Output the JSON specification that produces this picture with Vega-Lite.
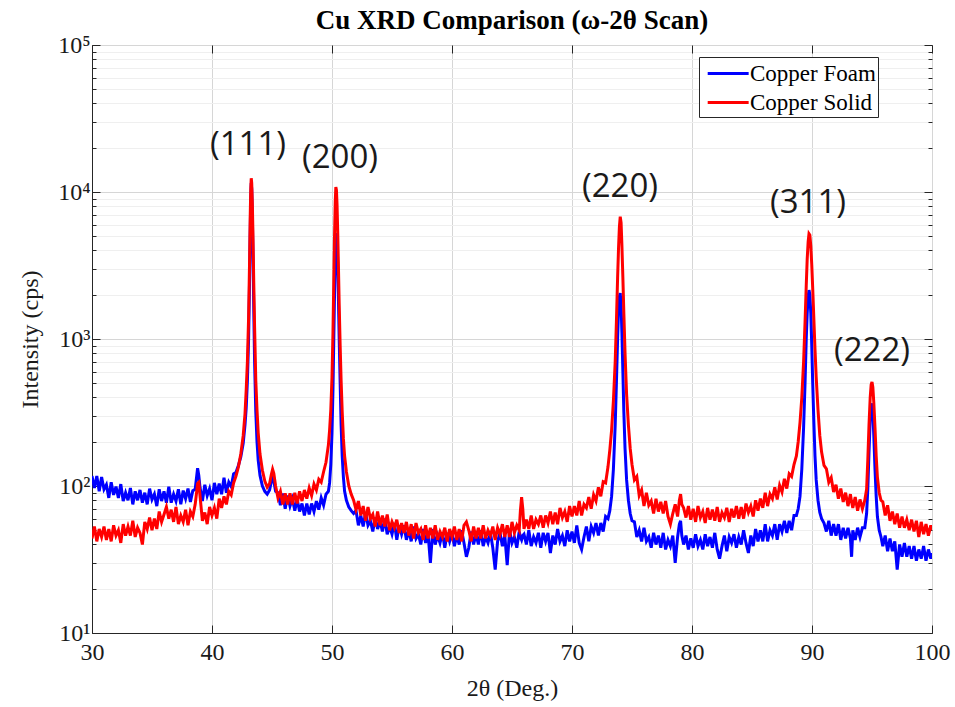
{
"$schema":"https://vega.github.io/schema/vega-lite/v6.json",
"width":840,"height":588,
"autosize":{"type":"none"},
"padding":{"left":92,"top":45,"right":23,"bottom":74},
"background":"white",
"title":{"text":"Cu XRD Comparison (ω-2θ Scan)","font":"Liberation Serif","fontSize":27,"fontWeight":"bold","color":"black","anchor":"middle","baseline":"alphabetic","offset":-23},
"config":{
 "view":{"stroke":"#262626","strokeWidth":1},
 "axis":{"domainColor":"#262626","tickColor":"#262626","labelColor":"#1a1a1a","titleColor":"#1a1a1a","labelFont":"Liberation Serif","titleFont":"Liberation Serif","labelFontSize":24,"titleFontSize":24,"titleFontWeight":"normal","labelOverlap":false,"labelBound":false,"labelFlush":false},
 "legend":{"orient":"none","legendX":607,"legendY":12,"strokeColor":"#262626","fillColor":"white","padding":2,"symbolType":"M-0.6,0L2.55,0","symbolSize":676,"symbolStrokeWidth":3,"labelFont":"Liberation Serif","labelFontSize":23,"labelOffset":20,"labelColor":"black","rowPadding":2}
},
"datasets":{
"xrd":[
{"x":30.0,"f":117,"s":44},{"x":30.2,"f":97,"s":53},{"x":30.4,"f":117,"s":42},{"x":30.6,"f":92,"s":51},{"x":30.8,"f":115,"s":45},
{"x":31.0,"f":95,"s":53},{"x":31.2,"f":102,"s":43},{"x":31.4,"f":83,"s":51},{"x":31.6,"f":106,"s":42},{"x":31.8,"f":87,"s":54},
{"x":32.0,"f":99,"s":46},{"x":32.2,"f":83,"s":50},{"x":32.4,"f":103,"s":41},{"x":32.6,"f":79,"s":55},{"x":32.8,"f":90,"s":46},
{"x":33.0,"f":80,"s":53},{"x":33.2,"f":97,"s":46},{"x":33.4,"f":75,"s":58},{"x":33.6,"f":92,"s":45},{"x":33.8,"f":80,"s":52},
{"x":34.0,"f":94,"s":48},{"x":34.2,"f":77,"s":40},{"x":34.4,"f":90,"s":57},{"x":34.6,"f":75,"s":51},{"x":34.8,"f":96,"s":61},
{"x":35.0,"f":81,"s":50},{"x":35.2,"f":88,"s":60},{"x":35.4,"f":73,"s":51},{"x":35.6,"f":95,"s":67},{"x":35.8,"f":79,"s":57},
{"x":36.0,"f":92,"s":64},{"x":36.2,"f":77,"s":72},{"x":36.4,"f":99,"s":60},{"x":36.6,"f":77,"s":69},{"x":36.8,"f":88,"s":57},
{"x":37.0,"f":79,"s":72},{"x":37.2,"f":95,"s":55},{"x":37.4,"f":75,"s":63},{"x":37.6,"f":93,"s":57},{"x":37.8,"f":82,"s":69},
{"x":38.0,"f":96,"s":54},{"x":38.2,"f":78,"s":67},{"x":38.4,"f":93,"s":62},{"x":38.6,"f":95,"s":75},{"x":38.7,"f":112,"s":88},
{"x":38.8,"f":132,"s":104},{"x":38.9,"f":118,"s":106},{"x":39.0,"f":98,"s":86},{"x":39.2,"f":79,"s":58},{"x":39.4,"f":102,"s":66},
{"x":39.6,"f":86,"s":55},{"x":39.8,"f":96,"s":72},{"x":40.0,"f":80,"s":63},{"x":40.2,"f":105,"s":71},{"x":40.4,"f":88,"s":60},
{"x":40.6,"f":104,"s":82},{"x":40.8,"f":88,"s":71},{"x":41.0,"f":114,"s":85},{"x":41.2,"f":90,"s":75},{"x":41.4,"f":106,"s":92},
{"x":41.6,"f":99,"s":87},{"x":41.8,"f":121,"s":105},{"x":42.0,"f":124,"s":117},{"x":42.2,"f":138,"s":135},{"x":42.4,"f":158,"s":165},
{"x":42.6,"f":195,"s":220},{"x":42.75,"f":260,"s":310},{"x":42.85,"f":340,"s":450},{"x":42.95,"f":520,"s":700},{"x":43.05,"f":1000,"s":1400},
{"x":43.12,"f":2200,"s":3000},{"x":43.18,"f":5000,"s":6500},{"x":43.23,"f":9000,"s":10500},{"x":43.27,"f":11500,"s":12400},{"x":43.31,"f":10500,"s":11500},
{"x":43.36,"f":7000,"s":8500},{"x":43.42,"f":3500,"s":4800},{"x":43.48,"f":1600,"s":2400},{"x":43.55,"f":700,"s":1200},{"x":43.65,"f":320,"s":520},
{"x":43.75,"f":200,"s":330},{"x":43.85,"f":150,"s":230},{"x":44.0,"f":118,"s":165},{"x":44.2,"f":100,"s":128},{"x":44.4,"f":92,"s":108},
{"x":44.6,"f":88,"s":98},{"x":44.8,"f":94,"s":104},{"x":44.95,"f":108,"s":120},{"x":45.05,"f":115,"s":130},{"x":45.15,"f":108,"s":122},
{"x":45.3,"f":92,"s":100},{"x":45.5,"f":90,"s":83},{"x":45.7,"f":74,"s":92},{"x":45.9,"f":89,"s":75},{"x":46.1,"f":70,"s":89},
{"x":46.3,"f":86,"s":75},{"x":46.5,"f":73,"s":89},{"x":46.7,"f":82,"s":75},{"x":46.9,"f":68,"s":90},{"x":47.1,"f":81,"s":76},
{"x":47.3,"f":67,"s":92},{"x":47.5,"f":76,"s":79},{"x":47.7,"f":63,"s":94},{"x":47.9,"f":76,"s":82},{"x":48.1,"f":64,"s":97},
{"x":48.3,"f":76,"s":86},{"x":48.5,"f":67,"s":103},{"x":48.7,"f":79,"s":94},{"x":48.9,"f":69,"s":111},{"x":49.1,"f":83,"s":106},
{"x":49.3,"f":74,"s":125},{"x":49.5,"f":88,"s":145},{"x":49.7,"f":92,"s":190},{"x":49.8,"f":105,"s":240},{"x":49.9,"f":140,"s":330},
{"x":50.0,"f":230,"s":550},{"x":50.08,"f":450,"s":1100},{"x":50.15,"f":1000,"s":2500},{"x":50.21,"f":2000,"s":5000},{"x":50.27,"f":3500,"s":8500},
{"x":50.32,"f":4800,"s":10800},{"x":50.37,"f":5250,"s":10300},{"x":50.42,"f":4700,"s":8200},{"x":50.48,"f":3200,"s":5200},{"x":50.54,"f":1800,"s":3000},
{"x":50.6,"f":1000,"s":1700},{"x":50.68,"f":500,"s":900},{"x":50.76,"f":260,"s":520},{"x":50.85,"f":160,"s":320},{"x":50.95,"f":115,"s":210},
{"x":51.05,"f":92,"s":160},{"x":51.2,"f":80,"s":125},{"x":51.4,"f":72,"s":100},{"x":51.6,"f":68,"s":88},{"x":51.8,"f":65,"s":80},
{"x":52.0,"f":68,"s":69},{"x":52.2,"f":54,"s":79},{"x":52.4,"f":63,"s":63},{"x":52.6,"f":53,"s":73},{"x":52.8,"f":66,"s":58},
{"x":53.0,"f":54,"s":72},{"x":53.2,"f":58,"s":60},{"x":53.4,"f":49,"s":64},{"x":53.6,"f":61,"s":53},{"x":53.8,"f":51,"s":67},
{"x":54.0,"f":58,"s":54},{"x":54.2,"f":49,"s":63},{"x":54.4,"f":60,"s":53},{"x":54.6,"f":47,"s":64},{"x":54.8,"f":53,"s":50},
{"x":55.0,"f":47,"s":57},{"x":55.2,"f":56,"s":52},{"x":55.4,"f":43,"s":59},{"x":55.6,"f":54,"s":48},{"x":55.8,"f":47,"s":56},
{"x":56.0,"f":54,"s":48},{"x":56.2,"f":43,"s":57},{"x":56.4,"f":50,"s":46},{"x":56.6,"f":42,"s":55},{"x":56.8,"f":53,"s":44},
{"x":57.0,"f":44,"s":56},{"x":57.2,"f":47,"s":48},{"x":57.4,"f":40,"s":51},{"x":57.6,"f":51,"s":43},{"x":57.8,"f":41,"s":54},
{"x":58.0,"f":48,"s":44},{"x":58.2,"f":30,"s":52},{"x":58.4,"f":51,"s":44},{"x":58.6,"f":40,"s":54},{"x":58.8,"f":46,"s":43},
{"x":59.0,"f":41,"s":49},{"x":59.2,"f":48,"s":45},{"x":59.4,"f":38,"s":52},{"x":59.6,"f":48,"s":42},{"x":59.8,"f":42,"s":51},
{"x":60.0,"f":48,"s":45},{"x":60.2,"f":39,"s":53},{"x":60.4,"f":46,"s":43},{"x":60.6,"f":40,"s":51},{"x":60.8,"f":50,"s":42},
{"x":61.0,"f":41,"s":54},{"x":61.2,"f":33,"s":57},{"x":61.4,"f":38,"s":50},{"x":61.6,"f":49,"s":42},{"x":61.8,"f":40,"s":53},
{"x":62.0,"f":47,"s":44},{"x":62.2,"f":40,"s":52},{"x":62.4,"f":50,"s":44},{"x":62.6,"f":39,"s":54},{"x":62.8,"f":45,"s":44},
{"x":63.0,"f":41,"s":50},{"x":63.2,"f":48,"s":46},{"x":63.4,"f":38,"s":53},{"x":63.6,"f":27,"s":43},{"x":63.8,"f":42,"s":52},
{"x":64.0,"f":48,"s":47},{"x":64.2,"f":39,"s":55},{"x":64.4,"f":46,"s":45},{"x":64.6,"f":29,"s":54},{"x":64.8,"f":50,"s":45},
{"x":65.0,"f":41,"s":57},{"x":65.2,"f":45,"s":48},{"x":65.4,"f":38,"s":54},{"x":65.6,"f":49,"s":50},{"x":65.7,"f":45,"s":68},
{"x":65.8,"f":43,"s":84},{"x":65.9,"f":46,"s":70},{"x":66.0,"f":47,"s":51},{"x":66.2,"f":40,"s":59},{"x":66.4,"f":50,"s":51},
{"x":66.6,"f":39,"s":63},{"x":66.8,"f":45,"s":51},{"x":67.0,"f":41,"s":59},{"x":67.2,"f":48,"s":55},{"x":67.4,"f":38,"s":63},
{"x":67.6,"f":48,"s":52},{"x":67.8,"f":42,"s":63},{"x":68.0,"f":48,"s":56},{"x":68.2,"f":35,"s":67},{"x":68.4,"f":46,"s":55},
{"x":68.6,"f":40,"s":66},{"x":68.8,"f":51,"s":55},{"x":69.0,"f":42,"s":71},{"x":69.2,"f":46,"s":61},{"x":69.4,"f":39,"s":67},
{"x":69.6,"f":50,"s":57},{"x":69.8,"f":42,"s":73},{"x":70.0,"f":49,"s":62},{"x":70.2,"f":41,"s":73},{"x":70.4,"f":54,"s":63},
{"x":70.6,"f":41,"s":79},{"x":70.8,"f":37,"s":63},{"x":71.0,"f":45,"s":75},{"x":71.2,"f":53,"s":71},{"x":71.4,"f":42,"s":84},
{"x":71.6,"f":53,"s":70},{"x":71.8,"f":48,"s":87},{"x":72.0,"f":56,"s":79},{"x":72.2,"f":46,"s":98},{"x":72.4,"f":56,"s":85},
{"x":72.6,"f":49,"s":107},{"x":72.8,"f":62,"s":105},{"x":73.0,"f":60,"s":135},{"x":73.15,"f":68,"s":175},{"x":73.3,"f":85,"s":240},
{"x":73.45,"f":130,"s":380},{"x":73.6,"f":260,"s":700},{"x":73.7,"f":500,"s":1300},{"x":73.8,"f":1000,"s":2600},{"x":73.88,"f":1600,"s":4200},
{"x":73.95,"f":1950,"s":5800},{"x":74.02,"f":2050,"s":6800},{"x":74.09,"f":1700,"s":6200},{"x":74.16,"f":1100,"s":4300},{"x":74.24,"f":600,"s":2600},
{"x":74.32,"f":320,"s":1500},{"x":74.42,"f":180,"s":800},{"x":74.55,"f":110,"s":420},{"x":74.7,"f":80,"s":260},{"x":74.85,"f":65,"s":180},
{"x":75.0,"f":58,"s":140},{"x":75.2,"f":57,"s":110},{"x":75.4,"f":45,"s":116},{"x":75.6,"f":50,"s":86},{"x":75.8,"f":42,"s":94},
{"x":76.0,"f":52,"s":73},{"x":76.2,"f":42,"s":90},{"x":76.4,"f":45,"s":74},{"x":76.6,"f":38,"s":79},{"x":76.8,"f":48,"s":65},
{"x":77.0,"f":40,"s":82},{"x":77.2,"f":46,"s":67},{"x":77.4,"f":38,"s":78},{"x":77.6,"f":48,"s":65},{"x":77.8,"f":37,"s":79},
{"x":78.0,"f":43,"s":62},{"x":78.2,"f":39,"s":55},{"x":78.4,"f":46,"s":65},{"x":78.6,"f":30,"s":75},{"x":78.8,"f":45,"s":62},
{"x":78.95,"f":55,"s":80},{"x":79.05,"f":58,"s":88},{"x":79.15,"f":46,"s":75},{"x":79.3,"f":40,"s":71},{"x":79.5,"f":46,"s":61},
{"x":79.7,"f":37,"s":73},{"x":79.9,"f":44,"s":59},{"x":80.1,"f":38,"s":70},{"x":80.3,"f":47,"s":57},{"x":80.5,"f":39,"s":73},
{"x":80.7,"f":43,"s":61},{"x":80.9,"f":37,"s":67},{"x":81.1,"f":47,"s":56},{"x":81.3,"f":39,"s":71},{"x":81.5,"f":45,"s":59},
{"x":81.7,"f":38,"s":69},{"x":81.9,"f":48,"s":58},{"x":82.1,"f":37,"s":72},{"x":82.3,"f":32,"s":57},{"x":82.5,"f":39,"s":66},
{"x":82.7,"f":46,"s":61},{"x":82.9,"f":36,"s":71},{"x":83.1,"f":45,"s":57},{"x":83.3,"f":41,"s":70},{"x":83.5,"f":47,"s":61},
{"x":83.7,"f":38,"s":73},{"x":83.9,"f":45,"s":60},{"x":84.1,"f":40,"s":72},{"x":84.3,"f":50,"s":60},{"x":84.5,"f":41,"s":76},
{"x":84.7,"f":35,"s":66},{"x":84.9,"f":46,"s":73},{"x":85.1,"f":39,"s":62},{"x":85.3,"f":51,"s":80},{"x":85.5,"f":42,"s":68},
{"x":85.7,"f":50,"s":82},{"x":85.9,"f":42,"s":71},{"x":86.1,"f":55,"s":90},{"x":86.3,"f":42,"s":73},{"x":86.5,"f":50,"s":88},
{"x":86.7,"f":46,"s":82},{"x":86.9,"f":55,"s":98},{"x":87.1,"f":43,"s":81},{"x":87.3,"f":55,"s":101},{"x":87.5,"f":49,"s":91},
{"x":87.7,"f":58,"s":112},{"x":87.9,"f":48,"s":96},{"x":88.1,"f":58,"s":121},{"x":88.3,"f":50,"s":116},{"x":88.5,"f":63,"s":140},
{"x":88.7,"f":63,"s":160},{"x":88.85,"f":70,"s":200},{"x":89.0,"f":85,"s":270},{"x":89.15,"f":130,"s":400},{"x":89.3,"f":250,"s":700},
{"x":89.42,"f":500,"s":1300},{"x":89.52,"f":1000,"s":2300},{"x":89.6,"f":1500,"s":3500},{"x":89.68,"f":1950,"s":4600},{"x":89.75,"f":2150,"s":5200},
{"x":89.82,"f":2000,"s":5100},{"x":89.9,"f":1500,"s":4300},{"x":89.98,"f":900,"s":3200},{"x":90.06,"f":500,"s":2200},{"x":90.15,"f":280,"s":1400},
{"x":90.25,"f":160,"s":850},{"x":90.35,"f":110,"s":550},{"x":90.5,"f":80,"s":330},{"x":90.65,"f":66,"s":220},{"x":90.8,"f":60,"s":170},
{"x":91.0,"f":56,"s":138},{"x":91.2,"f":49,"s":131},{"x":91.4,"f":58,"s":106},{"x":91.6,"f":46,"s":114},{"x":91.8,"f":55,"s":91},
{"x":92.0,"f":46,"s":102},{"x":92.2,"f":55,"s":82},{"x":92.4,"f":43,"s":96},{"x":92.6,"f":52,"s":78},{"x":92.8,"f":44,"s":90},
{"x":93.0,"f":52,"s":73},{"x":93.2,"f":44,"s":88},{"x":93.3,"f":33,"s":78},{"x":93.4,"f":50,"s":71},{"x":93.6,"f":43,"s":84},
{"x":93.8,"f":52,"s":68},{"x":94.0,"f":45,"s":81},{"x":94.2,"f":52,"s":70},{"x":94.4,"f":52,"s":80},{"x":94.55,"f":65,"s":95},
{"x":94.65,"f":95,"s":150},{"x":94.75,"f":170,"s":260},{"x":94.85,"f":280,"s":400},{"x":94.93,"f":350,"s":490},{"x":95.0,"f":365,"s":510},
{"x":95.07,"f":320,"s":470},{"x":95.15,"f":220,"s":370},{"x":95.25,"f":130,"s":250},{"x":95.35,"f":85,"s":160},{"x":95.45,"f":62,"s":115},
{"x":95.6,"f":50,"s":90},{"x":95.75,"f":45,"s":80},{"x":95.9,"f":39,"s":78},{"x":96.1,"f":46,"s":63},{"x":96.3,"f":36,"s":74},
{"x":96.5,"f":44,"s":58},{"x":96.7,"f":36,"s":67},{"x":96.9,"f":42,"s":55},{"x":97.1,"f":27,"s":65},{"x":97.3,"f":40,"s":52},
{"x":97.5,"f":33,"s":62},{"x":97.7,"f":41,"s":52},{"x":97.9,"f":33,"s":59},{"x":98.1,"f":39,"s":50},{"x":98.3,"f":32,"s":59},
{"x":98.5,"f":39,"s":49},{"x":98.7,"f":31,"s":58},{"x":98.9,"f":37,"s":45},{"x":99.1,"f":32,"s":57},{"x":99.3,"f":39,"s":47},
{"x":99.5,"f":31,"s":55},{"x":99.7,"f":37,"s":46},{"x":99.9,"f":32,"s":54},{"x":100.0,"f":35,"s":50}
],
"peaks":[
{"x":43.0,"y":20900,"label":"(111)"},
{"x":50.67,"y":17000,"label":"(200)"},
{"x":74.0,"y":10800,"label":"(220)"},
{"x":89.67,"y":8400,"label":"(311)"},
{"x":95.0,"y":830,"label":"(222)"}
]
},
"layer":[
{
 "data":{"name":"xrd"},
 "transform":[{"fold":["f","s"],"as":["series","value"]}],
 "mark":{"type":"line","strokeWidth":3,"clip":true},
 "encoding":{
  "x":{"field":"x","type":"quantitative","scale":{"domain":[30,100],"nice":false,"zero":false},
   "axis":{"orient":"bottom","values":[30,40,50,60,70,80,90,100],"grid":true,"gridColor":"#d6d6d6","tickSize":-8,"labelPadding":15,"title":"2θ (Deg.)","titlePadding":12}},
  "y":{"field":"value","type":"quantitative","scale":{"type":"log","domain":[10,100000],"nice":false},
   "axis":{"orient":"left","values":[10,20,30,40,50,60,70,80,90,100,200,300,400,500,600,700,800,900,1000,2000,3000,4000,5000,6000,7000,8000,9000,10000,20000,30000,40000,50000,60000,70000,80000,90000,100000],
    "labelExpr":"datum.value==10?'10¹':datum.value==100?'10²':datum.value==1000?'10³':datum.value==10000?'10⁴':datum.value==100000?'10⁵':''",
    "grid":true,
    "gridColor":{"condition":{"test":"indexof([10,100,1000,10000,100000],datum.value)>=0","value":"#d6d6d6"},"value":"#efefef"},
    "tickSize":{"condition":{"test":"indexof([10,100,1000,10000,100000],datum.value)>=0","value":-8},"value":-4},
    "labelPadding":10,"title":"Intensity (cps)","titlePadding":15}},
  "color":{"field":"series","type":"nominal","scale":{"domain":["f","s"],"range":["#0000ff","#ff0000"]},
   "legend":{"title":null,"labelExpr":"datum.label=='f'?'Copper Foam':'Copper Solid'"}}
 }
},
{
 "data":{"name":"peaks"},
 "mark":{"type":"text","font":"Open Sans","fontSize":33,"color":"#1a1a1a","align":"center","baseline":"middle"},
 "encoding":{
  "x":{"field":"x","type":"quantitative","axis":{"orient":"top","values":[30,40,50,60,70,80,90,100],"labels":false,"grid":false,"tickSize":-8,"domain":false,"title":null}},
  "y":{"field":"y","type":"quantitative","axis":{"orient":"right","values":[10,20,30,40,50,60,70,80,90,100,200,300,400,500,600,700,800,900,1000,2000,3000,4000,5000,6000,7000,8000,9000,10000,20000,30000,40000,50000,60000,70000,80000,90000,100000],"labels":false,"grid":false,"domain":false,"title":null,
   "tickSize":{"condition":{"test":"indexof([10,100,1000,10000,100000],datum.value)>=0","value":-8},"value":-4}}},
  "text":{"field":"label"}
 }
}
],
"resolve":{"axis":{"x":"independent","y":"independent"}}
}
